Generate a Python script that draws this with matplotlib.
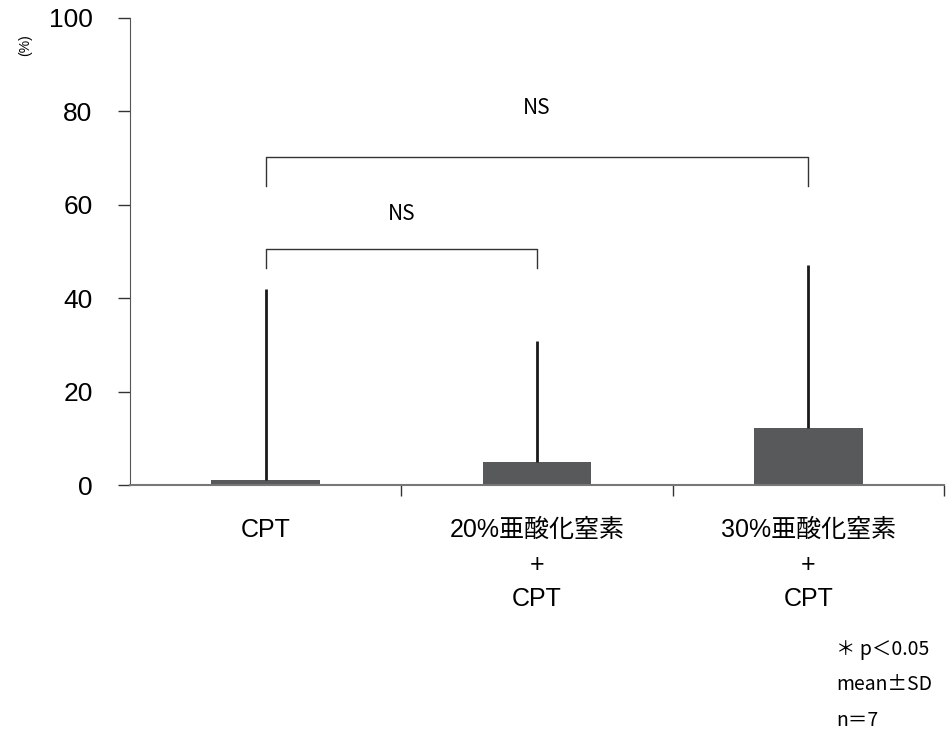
import numpy as np
import matplotlib
matplotlib.use('Agg')
import matplotlib.pyplot as plt

plt.rcParams['font.family'] = ['Liberation Sans', 'Noto Sans CJK JP', 'DejaVu Sans']

categories = ['CPT', '20%亜酸化窒素\n+\nCPT', '30%亜酸化窒素\n+\nCPT']
means = [1.0, 5.0, 12.2]
sds = [41.0, 25.8, 35.0]
yticks = [0, 20, 40, 60, 80, 100]
notes = ['＊ p＜0.05', 'mean±SD', 'n＝7']

fig = plt.figure(figsize=(9.49, 7.47), dpi=100)
ax = fig.add_axes([0.137, 0.3507, 0.8577, 0.6253])

x = np.arange(len(categories))
ax.bar(x, means, width=0.4, color='#58595b', zorder=2)
# only the upper half of the error bar is drawn
ax.errorbar(x, means, yerr=[np.zeros(len(sds)), sds], fmt='none',
            ecolor='#1a1a1a', elinewidth=2, capsize=0, zorder=3)

ax.set_xlim(-0.5, 2.5)
ax.set_ylim(0, 100)
ax.set_yticks(yticks)
ax.tick_params(axis='y', labelsize=19, length=9, width=1, color='#333333', pad=18)

ax.set_xticks(x)
ax.set_xticklabels(categories, fontsize=18, linespacing=1.55, va='top')
ax.tick_params(axis='x', which='major', length=0, pad=24)
ax.set_xticks([0.5, 1.5, 2.5], minor=True)
ax.tick_params(axis='x', which='minor', length=8, width=1, color='#333333')

for side in ['top', 'right']:
    ax.spines[side].set_visible(False)
ax.spines['left'].set_color('#555555')
ax.spines['bottom'].set_color('#777777')
ax.spines['bottom'].set_linewidth(1.5)

# significance brackets
def bracket(x1, x2, y, h, label, ly):
    ax.plot([x1, x1, x2, x2], [y - h, y, y, y - h], color='#333333', lw=1)
    ax.text((x1 + x2) / 2, ly, label, ha='center', va='center', fontsize=15,
            family=['Noto Sans CJK JP'])

bracket(0, 2, 70.3, 6.3, 'NS', 80.7)
bracket(0, 1, 50.6, 4.2, 'NS', 58.0)

fig.text(0.027, 0.94, '(%)', rotation=90, fontsize=10, ha='center', va='center')

for i, t in enumerate(notes):
    fig.text(0.881, 0.13 - i * 0.047, t, fontsize=14, ha='left', va='center',
             family=['Noto Sans CJK JP'])

fig.savefig('out.png', dpi=100)
